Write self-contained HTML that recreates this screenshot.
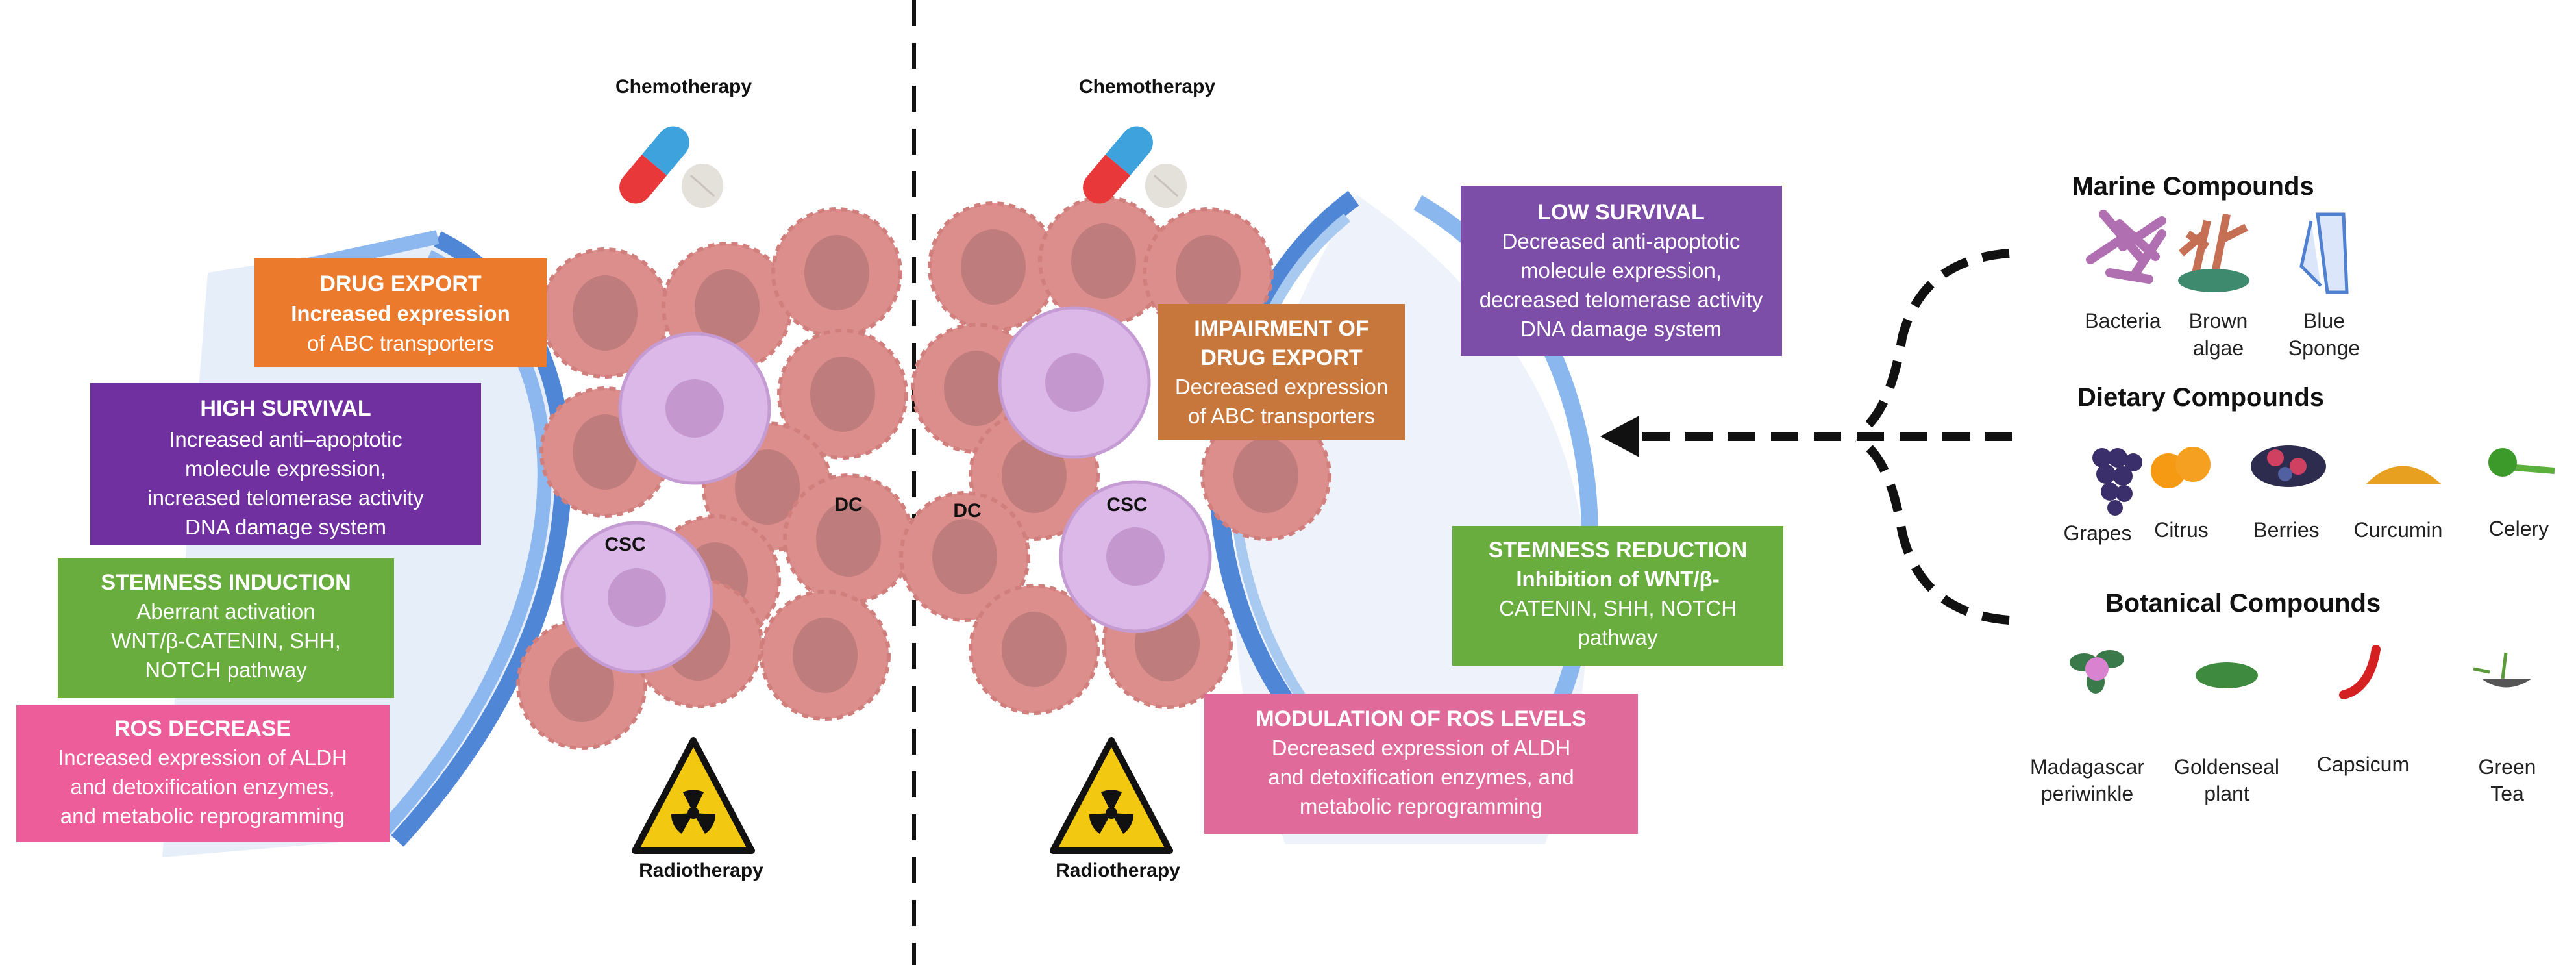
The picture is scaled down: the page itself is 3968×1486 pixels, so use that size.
<!DOCTYPE html>
<html><head><meta charset="utf-8"><style>
html,body{margin:0;padding:0;background:#fff}
svg{display:block}
text{font-family:"Liberation Sans",sans-serif}
.bt{fill:#fff;font-size:33px;text-anchor:middle}
.bh{fill:#fff;font-size:34px;font-weight:bold;text-anchor:middle}
.lb{fill:#222;font-size:32px;text-anchor:middle}
.tt{fill:#111;font-size:40px;font-weight:bold;text-anchor:middle}
.sm{fill:#111;font-size:30px;font-weight:bold;text-anchor:middle}
</style></head><body>
<svg width="3968" height="1486" viewBox="0 0 3968 1486" xmlns="http://www.w3.org/2000/svg">
<defs>
<g id="cell">
<circle r="98" fill="#dc8e8c" stroke="#d07f7d" stroke-width="6" stroke-dasharray="10 8"/>
<ellipse rx="50" ry="58" fill="#bf7c7c"/>
</g>
<g id="csc">
<circle r="115" fill="#dcb8e8" stroke="#c59bd4" stroke-width="5"/>
<circle r="45" fill="#c497cf"/>
</g>
<g id="pill">
<g transform="rotate(40)">
<rect x="-25" y="-70" width="50" height="70" rx="25" fill="#3ea2dc"/>
<rect x="-25" y="-25" width="50" height="25" fill="#3ea2dc"/>
<rect x="-25" y="0" width="50" height="70" rx="25" fill="#e8383a"/>
<rect x="-25" y="0" width="50" height="25" fill="#e8383a"/>
</g>
<ellipse cx="74" cy="32" rx="32" ry="34" fill="#e4e0da"/>
<line x1="56" y1="16" x2="92" y2="48" stroke="#c8c2ba" stroke-width="3"/>
</g>
<g id="rad">
<polygon points="0,-92 90,78 -90,78" fill="#f2c811" stroke="#111" stroke-width="10" stroke-linejoin="round"/>
<circle cx="0" cy="20" r="9" fill="#111"/>
<path d="M0,20 L-16,-12 A36,36 0 0 1 16,-12 Z M0,20 L34,22 A36,36 0 0 1 18,52 Z M0,20 L-18,52 A36,36 0 0 1 -34,22 Z" fill="#111"/>
</g>
</defs>

<!-- divider -->
<line x1="1408" y1="0" x2="1408" y2="1486" stroke="#111" stroke-width="6" stroke-dasharray="40 26"/>

<!-- LEFT shield -->
<path d="M674,363 C900,480 960,900 608,1290 L250,1320 L320,420 Z" fill="#e6eefa"/>
<path d="M674,368 C910,480 975,900 612,1295" fill="none" stroke="#4f86d6" stroke-width="26"/>
<path d="M660,395 C880,500 940,900 590,1280" fill="none" stroke="#8db8ef" stroke-width="22"/>
<path d="M674,365 L420,420" stroke="#8db8ef" stroke-width="22"/>

<!-- LEFT cells -->
<use href="#cell" x="932" y="482"/>
<use href="#cell" x="1120" y="473"/>
<use href="#cell" x="1289" y="420"/>
<use href="#cell" x="1298" y="607"/>
<use href="#cell" x="1182" y="750"/>
<use href="#cell" x="932" y="696"/>
<use href="#cell" x="1307" y="830"/>
<use href="#cell" x="1102" y="893"/>
<use href="#cell" x="1271" y="1009"/>
<use href="#cell" x="896" y="1054"/>
<use href="#cell" x="1075" y="990"/>
<use href="#csc" x="1070" y="629"/>
<use href="#csc" x="981" y="920"/>
<text x="963" y="848" class="sm">CSC</text>
<text x="1307" y="787" class="sm">DC</text>

<!-- left boxes -->
<rect x="392" y="398" width="450" height="167" fill="#eb7a2c"/>
<text x="617" y="448" class="bh">DRUG  EXPORT</text>
<text x="617" y="494" class="bt" font-weight="bold">Increased expression</text>
<text x="617" y="540" class="bt">of ABC transporters</text>

<rect x="139" y="590" width="602" height="250" fill="#7030a0"/>
<text x="440" y="640" class="bh">HIGH  SURVIVAL</text>
<text x="440" y="688" class="bt">Increased anti–apoptotic</text>
<text x="440" y="733" class="bt">molecule  expression,</text>
<text x="440" y="778" class="bt">increased telomerase activity</text>
<text x="440" y="823" class="bt">DNA damage  system</text>

<rect x="89" y="860" width="518" height="215" fill="#68ad3e"/>
<text x="348" y="908" class="bh">STEMNESS  INDUCTION</text>
<text x="348" y="953" class="bt">Aberrant activation</text>
<text x="348" y="998" class="bt">WNT/β-CATENIN,   SHH,</text>
<text x="348" y="1043" class="bt">NOTCH  pathway</text>

<rect x="25" y="1085" width="575" height="212" fill="#ec5d99"/>
<text x="312" y="1133" class="bh">ROS DECREASE</text>
<text x="312" y="1178" class="bt">Increased expression of ALDH</text>
<text x="312" y="1223" class="bt">and detoxification enzymes,</text>
<text x="312" y="1268" class="bt">and metabolic reprogramming</text>

<!-- left chemo/radio -->
<text x="1053" y="143" class="sm">Chemotherapy</text>
<use href="#pill" x="1008" y="254"/>
<use href="#rad" x="1068" y="1232"/>
<text x="1080" y="1350" class="sm">Radiotherapy</text>

<!-- RIGHT shield -->
<path d="M2090,300 Q2600,650 2380,1300 L1980,1300 Q1780,800 2090,300 Z" fill="#eef3fb"/>
<path d="M2184,312 C2480,480 2500,900 2380,1130" fill="none" stroke="#8ab8ee" stroke-width="26"/>
<path d="M2085,305 C1850,480 1800,850 2010,1120" fill="none" stroke="#4f86d6" stroke-width="28"/>
<path d="M2075,335 C1870,500 1835,850 2030,1110" fill="none" stroke="#a8c9f0" stroke-width="16"/>

<!-- RIGHT cells -->
<use href="#cell" x="1530" y="411"/>
<use href="#cell" x="1700" y="402"/>
<use href="#cell" x="1861" y="420"/>
<use href="#cell" x="1504" y="598"/>
<use href="#cell" x="1593" y="732"/>
<use href="#cell" x="1950" y="732"/>
<use href="#cell" x="1486" y="857"/>
<use href="#cell" x="1593" y="1000"/>
<use href="#cell" x="1798" y="991"/>
<use href="#csc" x="1655" y="589"/>
<use href="#csc" x="1749" y="857"/>
<text x="1736" y="787" class="sm">CSC</text>
<text x="1490" y="796" class="sm">DC</text>

<rect x="1784" y="468" width="380" height="210" fill="#c8773c"/>
<text x="1974" y="517" class="bh">IMPAIRMENT OF</text>
<text x="1974" y="562" class="bh">DRUG  EXPORT</text>
<text x="1974" y="607" class="bt">Decreased expression</text>
<text x="1974" y="652" class="bt">of ABC transporters</text>

<rect x="2250" y="286" width="495" height="262" fill="#7d4ea8"/>
<text x="2497" y="338" class="bh">LOW SURVIVAL</text>
<text x="2497" y="383" class="bt">Decreased anti-apoptotic</text>
<text x="2497" y="428" class="bt">molecule  expression,</text>
<text x="2497" y="473" class="bt">decreased telomerase activity</text>
<text x="2497" y="518" class="bt">DNA damage  system</text>

<rect x="2237" y="810" width="510" height="215" fill="#68ad3e"/>
<text x="2492" y="858" class="bh">STEMNESS  REDUCTION</text>
<text x="2492" y="903" class="bt" font-weight="bold">Inhibition of WNT/β-</text>
<text x="2492" y="948" class="bt">CATENIN,  SHH,  NOTCH</text>
<text x="2492" y="993" class="bt">pathway</text>

<rect x="1855" y="1068" width="668" height="216" fill="#e06b9b"/>
<text x="2189" y="1118" class="bh">MODULATION OF ROS LEVELS</text>
<text x="2189" y="1163" class="bt">Decreased expression of ALDH</text>
<text x="2189" y="1208" class="bt">and detoxification enzymes, and</text>
<text x="2189" y="1253" class="bt">metabolic reprogramming</text>

<text x="1767" y="143" class="sm">Chemotherapy</text>
<use href="#pill" x="1722" y="254"/>
<use href="#rad" x="1712" y="1232"/>
<text x="1722" y="1350" class="sm">Radiotherapy</text>

<!-- dashed arrows -->
<g fill="none" stroke="#111" stroke-width="14" stroke-dasharray="42 24">
<path d="M3100,672 L2520,672"/>
<path d="M3095,390 Q2960,400 2930,520 Q2910,640 2860,668"/>
<path d="M3095,955 Q2960,945 2930,820 Q2910,700 2860,676"/>
</g>
<polygon points="2465,672 2525,640 2525,704" fill="#111"/>

<!-- compounds -->
<text x="3378" y="300" class="tt">Marine Compounds</text>
<g stroke="#b06fb0" stroke-width="14" stroke-linecap="round">
<line x1="3220" y1="400" x2="3280" y2="360"/><line x1="3240" y1="330" x2="3300" y2="400"/><line x1="3270" y1="380" x2="3330" y2="340"/><line x1="3290" y1="420" x2="3330" y2="360"/><line x1="3250" y1="420" x2="3310" y2="430"/><line x1="3265" y1="345" x2="3320" y2="395"/>
</g>
<path d="M3380,430 L3400,340 M3410,430 L3430,330 M3400,380 L3370,360 M3420,370 L3460,350 M3395,360 L3360,390" stroke="#c57054" stroke-width="12" fill="none"/>
<ellipse cx="3410" cy="432" rx="55" ry="18" fill="#3e8a6e"/>
<path d="M3570,330 L3610,330 L3615,450 L3585,450 Z M3560,340 L3545,410 L3575,440" stroke="#5080d0" stroke-width="5" fill="#dbe6fa"/>
<text x="3270" y="505" class="lb">Bacteria</text>
<text x="3417" y="505" class="lb">Brown</text>
<text x="3417" y="547" class="lb">algae</text>
<text x="3580" y="505" class="lb">Blue</text>
<text x="3580" y="547" class="lb">Sponge</text>

<text x="3390" y="625" class="tt">Dietary Compounds</text>
<g fill="#3a2f6a">
<circle cx="3238" cy="705" r="15"/><circle cx="3262" cy="705" r="15"/><circle cx="3286" cy="712" r="14"/>
<circle cx="3244" cy="730" r="15"/><circle cx="3270" cy="733" r="15"/>
<circle cx="3250" cy="757" r="14"/><circle cx="3272" cy="760" r="13"/><circle cx="3258" cy="782" r="12"/>
</g>
<circle cx="3340" cy="725" r="27" fill="#f59a12"/><circle cx="3378" cy="715" r="27" fill="#f5a020"/>
<ellipse cx="3525" cy="718" rx="58" ry="32" fill="#2e2c4e"/><circle cx="3505" cy="705" r="13" fill="#d04060"/><circle cx="3540" cy="718" r="13" fill="#d04060"/><circle cx="3520" cy="730" r="11" fill="#5060a0"/>
<path d="M3645,745 Q3700,690 3760,745 Z" fill="#e8a020"/>
<path d="M3850,718 L3935,725" stroke="#5ab03a" stroke-width="10"/><circle cx="3855" cy="712" r="22" fill="#3c9a2a"/>
<text x="3231" y="832" class="lb">Grapes</text>
<text x="3360" y="827" class="lb">Citrus</text>
<text x="3522" y="827" class="lb">Berries</text>
<text x="3694" y="827" class="lb">Curcumin</text>
<text x="3880" y="825" class="lb">Celery</text>

<text x="3455" y="942" class="tt">Botanical Compounds</text>
<ellipse cx="3210" cy="1020" rx="22" ry="14" fill="#3a7a4a"/><ellipse cx="3250" cy="1015" rx="22" ry="14" fill="#3a7a4a"/><ellipse cx="3228" cy="1050" rx="14" ry="18" fill="#3a7a4a"/>
<circle cx="3230" cy="1030" r="18" fill="#d882d0"/>
<ellipse cx="3430" cy="1040" rx="48" ry="20" fill="#3e8a3e"/>
<path d="M3610,1070 Q3650,1060 3660,1000" stroke="#d42020" stroke-width="14" fill="none" stroke-linecap="round"/>
<path d="M3822,1045 Q3860,1072 3900,1045 Z" fill="#555"/><path d="M3855,1045 L3860,1005 M3835,1035 L3810,1030" stroke="#5a9a3a" stroke-width="5"/>
<text x="3215" y="1192" class="lb">Madagascar</text>
<text x="3215" y="1233" class="lb">periwinkle</text>
<text x="3430" y="1192" class="lb">Goldenseal</text>
<text x="3430" y="1233" class="lb">plant</text>
<text x="3640" y="1188" class="lb">Capsicum</text>
<text x="3862" y="1192" class="lb">Green</text>
<text x="3862" y="1233" class="lb">Tea</text>
</svg>
</body></html>
